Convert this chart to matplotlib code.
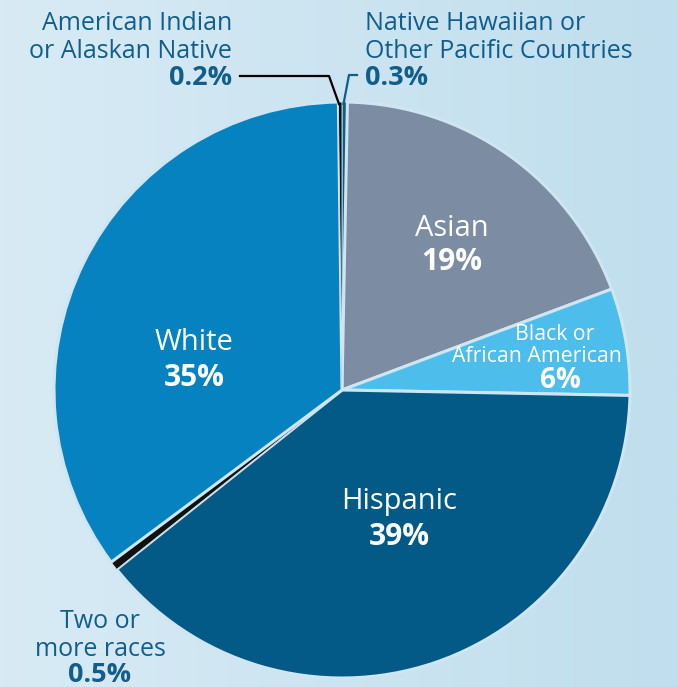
import numpy as np
import matplotlib
matplotlib.use("Agg")
import matplotlib.pyplot as plt
from matplotlib.colors import LinearSegmentedColormap

plt.rcParams["font.family"] = ["Open Sans", "DejaVu Sans"]

# --- data -------------------------------------------------------------------
groups = ["Native Hawaiian or Other Pacific Countries", "Asian",
          "Black or African American", "Hispanic", "Two or more races",
          "White", "American Indian or Alaskan Native"]
shares = [0.3, 19, 6, 39, 0.5, 35, 0.2]
colors = ["#0d5f88", "#7b8ca3", "#4dbdec", "#035a86", "#111111",
          "#0782c0", "#111111"]

W, H = 678, 687
TXT = "#115d8b"

fig = plt.figure(figsize=(W / 100, H / 100), dpi=100)
ax = fig.add_axes([0, 0, 1, 1])

# horizontal background gradient
bg = LinearSegmentedColormap.from_list("bg", ["#d8ebf5", "#c0deed"])
ax.imshow(np.linspace(0, 1, 256)[None, :], cmap=bg, aspect="auto",
          extent=(0, W, 0, H), zorder=0)

cx, cy, r = 342, H - 390, 288
wedges, _ = ax.pie(shares, colors=colors, startangle=90, counterclock=False,
                   center=(cx, cy), radius=r, frame=True,
                   wedgeprops=dict(edgecolor="#cfe6f2", linewidth=2.2))
for w, s in zip(wedges, shares):
    if s < 1:
        w.set_linewidth(0.6)
ax.set_xlim(0, W)
ax.set_ylim(0, H)
ax.axis("off")


def put(x, y, s, size, color=TXT, bold=False, ha="center"):
    ax.text(x, H - y, s, fontsize=size, color=color, ha=ha, va="center",
            fontweight="bold" if bold else 500, zorder=5)


# labels inside the pie
put(452, 228, "Asian", 21, "white")
put(452, 262, "19%", 21.5, "white", bold=True)
put(555, 334, "Black or", 15.3, "white")
put(537, 357, "African American", 15.3, "white")
put(560, 380, "6%", 20, "white", bold=True)
put(194, 343, "White", 21, "white")
put(194, 378, "35%", 21.5, "white", bold=True)
put(399, 502, "Hispanic", 21, "white")
put(399, 537, "39%", 21.5, "white", bold=True)

# labels outside the pie
put(232, 24, "American Indian", 18, ha="right")
put(232, 51, "or Alaskan Native", 18, ha="right")
put(232, 78, "0.2%", 19.5, bold=True, ha="right")
put(365, 24, "Native Hawaiian or", 18, ha="left")
put(365, 51, "Other Pacific Countries", 18, ha="left")
put(365, 78, "0.3%", 19.5, bold=True, ha="left")
put(100, 622, "Two or", 18)
put(100, 649, "more races", 18)
put(100, 675, "0.5%", 19.5, bold=True)

# leader lines to the two thin slices
ax.plot([240, 329, 339], [H - 76, H - 76, H - 104], color="black", lw=1.6, zorder=4)
ax.plot([357, 349, 343.5], [H - 75, H - 75, H - 104], color="#0d5f88", lw=1.6, zorder=4)

fig.savefig("out.png", dpi=100)
